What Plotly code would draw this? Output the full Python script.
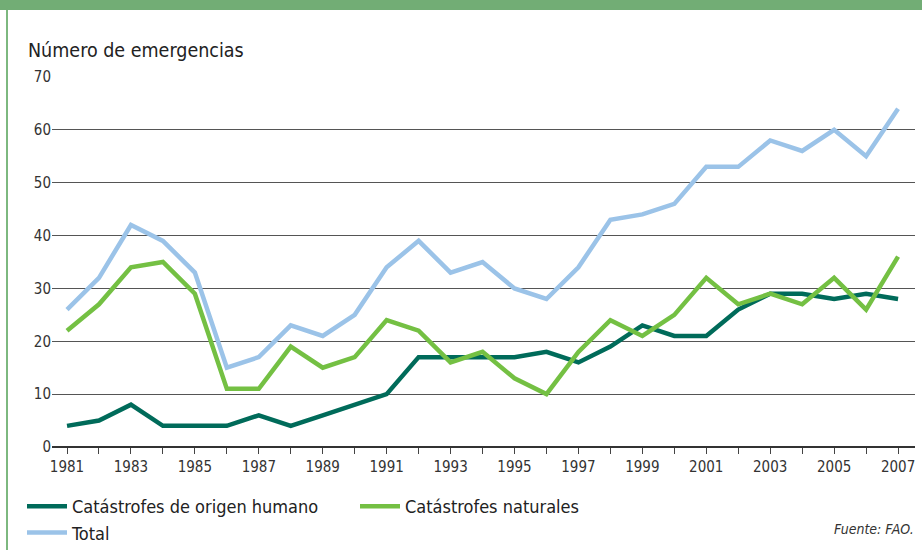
import plotly.graph_objects as go

years = list(range(1981, 2008))
humano = [4, 5, 8, 4, 4, 4, 6, 4, 6, 8, 10, 17, 17, 17, 17, 18, 16, 19, 23, 21, 21, 26, 29, 29, 28, 29, 28]
naturales = [22, 27, 34, 35, 29, 11, 11, 19, 15, 17, 24, 22, 16, 18, 13, 10, 18, 24, 21, 25, 32, 27, 29, 27, 32, 26, 36]
total = [26, 32, 42, 39, 33, 15, 17, 23, 21, 25, 34, 39, 33, 35, 30, 28, 34, 43, 44, 46, 53, 53, 58, 56, 60, 55, 64]

tick_text = [str(y) if (y - 1981) % 2 == 0 else "" for y in years]

FONT = "Liberation Sans Narrow, DejaVu Sans Condensed, Roboto, sans-serif"
W, H = 922, 550
ML, MR, MT, MB = 52, 7, 77, 103
PW, PH = W - ML - MR, H - MT - MB


def px_x(p):
    return (p - ML) / PW


def px_y(p):
    return (H - MB - p) / PH


fig = go.Figure()

fig.add_trace(go.Scatter(
    x=years, y=humano, mode="lines", name="Catástrofes de origen humano",
    line=dict(color="#006B5A", width=4.5),
))
fig.add_trace(go.Scatter(
    x=years, y=naturales, mode="lines", name="Catástrofes naturales",
    line=dict(color="#74C043", width=4.5),
))
fig.add_trace(go.Scatter(
    x=years, y=total, mode="lines", name="Total",
    line=dict(color="#9BC3E8", width=4.5),
))

# frame: green band on top and thin green rule on the left
fig.add_shape(type="rect", xref="paper", yref="paper",
              x0=px_x(0), x1=px_x(W), y0=px_y(10), y1=px_y(0),
              fillcolor="#72AD75", line=dict(width=0), layer="below")
fig.add_shape(type="line", xref="paper", yref="paper",
              x0=px_x(7), x1=px_x(7), y0=px_y(H), y1=px_y(10),
              line=dict(color="#7DB87F", width=2))

fig.add_annotation(
    text="Número de emergencias", xref="paper", yref="paper",
    x=px_x(26), y=px_y(50), xanchor="left", yanchor="middle",
    showarrow=False, font=dict(family=FONT, size=19.5, color="#222222"),
)
fig.add_annotation(
    text="<i>Fuente: FAO.</i>", xref="paper", yref="paper",
    x=px_x(916), y=px_y(529), xanchor="right", yanchor="middle",
    showarrow=False, font=dict(family=FONT, size=14, color="#333333"),
)

fig.update_layout(
    width=W, height=H,
    margin=dict(l=ML, r=MR, t=MT, b=MB),
    plot_bgcolor="white", paper_bgcolor="white",
    font=dict(family=FONT, size=15, color="#333333"),
    showlegend=True,
    legend=dict(
        orientation="h", xref="container", yref="container",
        x=22 / W, y=1 - 488 / H, xanchor="left", yanchor="top",
        entrywidth=278, entrywidthmode="pixels",
        font=dict(family=FONT, size=18, color="#222222"),
        tracegroupgap=0, itemwidth=40,
    ),
    xaxis=dict(
        range=[1980.53, 2007.53], tickvals=years, ticktext=tick_text,
        ticks="outside", ticklen=6, tickcolor="#444444", tickwidth=1,
        showgrid=False, zeroline=False, showline=False,
        tickfont=dict(size=15, color="#333333"),
    ),
    yaxis=dict(
        range=[0, 70], dtick=10, showgrid=True, gridcolor="#555555", gridwidth=1,
        zeroline=True, zerolinecolor="#333333", zerolinewidth=2,
        showline=False, ticks="", tickfont=dict(size=15, color="#333333"),
    ),
)

fig.write_html(
    "out.html",
    config={"displayModeBar": False},
    post_script="document.body.style.margin = '0';",
)
